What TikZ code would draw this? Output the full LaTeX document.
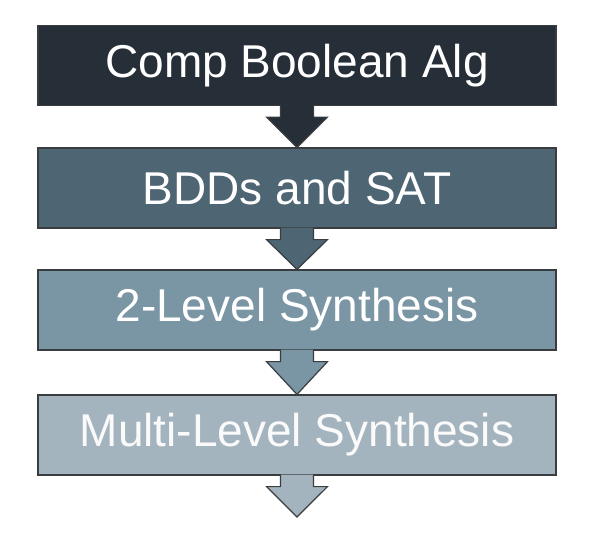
\documentclass[tikz,border=0pt]{standalone}
\usepackage{fontspec}
\setmainfont{Liberation Sans}
\usepackage{tikz}
\usepackage{xcolor}
\usetikzlibrary{calc}
\definecolor{edgegray}{HTML}{3A3D40}
\definecolor{levelone}{HTML}{262E38}
\definecolor{leveltwo}{HTML}{4E6573}
\definecolor{levelthree}{HTML}{7A95A4}
\definecolor{levelfour}{HTML}{A4B4BE}
\tikzset{
    level-box/.style = {draw=edgegray, line width=1.2pt, rectangle, minimum width=518pt, minimum height=80pt, inner sep=0pt, text=white, font=\fontsize{46}{50}\selectfont},
    level-arrow/.style = {draw=edgegray, line width=1.2pt, line join=miter},
}
\newcommand{\levelarrow}[3]{%
  \filldraw[level-arrow, fill=#3]
    ($(#1.south)+(-16.5,1)$) -- ($(#1.south)+(-16.5,-11)$) -- ($(#1.south)+(-30.5,-11)$)
    -- (#2) -- ($(#1.south)+(30.5,-11)$) -- ($(#1.south)+(16.5,-11)$) -- ($(#1.south)+(16.5,1)$);
}

\begin{document}
\begin{tikzpicture}[x=1pt, y=1pt]
\useasboundingbox (0,0) rectangle (596,-549);
\node [level-box, fill=levelone] (comp) at (297,-65.5) {Comp Boolean Alg};
\node [level-box, fill=leveltwo] (bdd) at (297,-188) {BDDs and SAT};
\node [level-box, fill=levelthree] (twolevel) at (297,-310) {2-Level Synthesis};
\node [level-box, fill=levelfour, text=white!94!levelfour] (multilevel) at (297,-435) {Multi-Level Synthesis};
\coordinate (end) at (297,-517);
\levelarrow{comp}{bdd.north}{levelone}
\levelarrow{bdd}{twolevel.north}{leveltwo}
\levelarrow{twolevel}{multilevel.north}{levelthree}
\levelarrow{multilevel}{end}{levelfour}
\end{tikzpicture}
\end{document}
